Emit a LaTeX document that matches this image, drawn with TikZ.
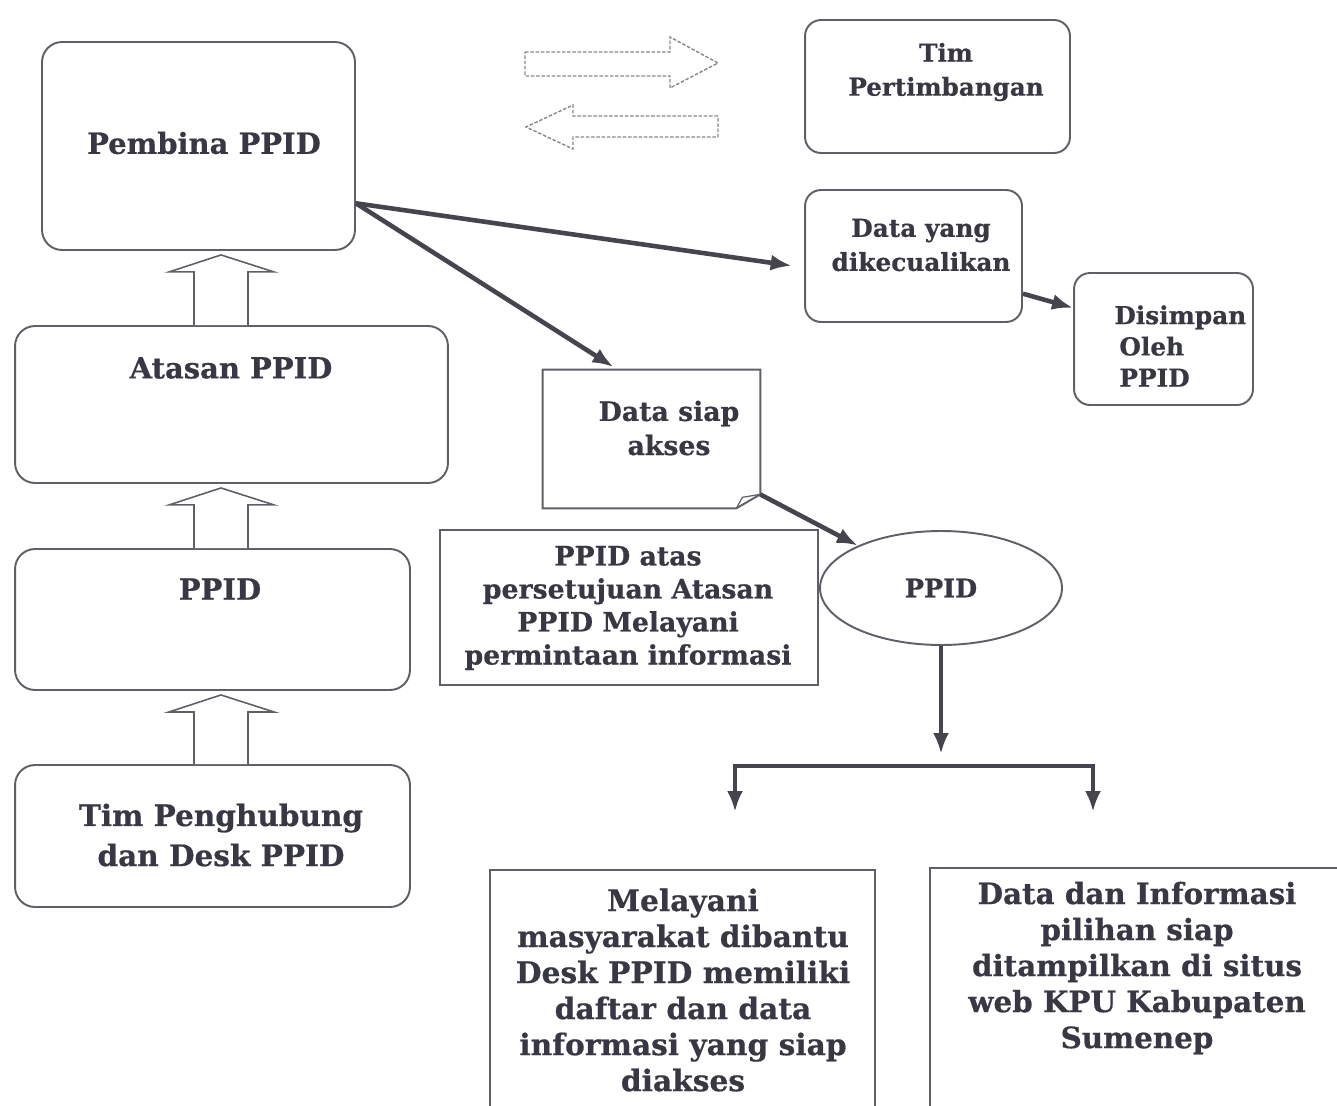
\documentclass[tikz,border=0pt]{standalone}
\usepackage{fontspec}
\setmainfont{DejaVu Serif}[BoldFeatures={FakeBold=0.6}]
\usepackage{tikz}
\usetikzlibrary{arrows.meta}
\usetikzlibrary{shapes.geometric}
\usetikzlibrary{calc}
\usetikzlibrary{positioning}
\definecolor{boxline}{HTML}{5F5F68}
\definecolor{flowline}{HTML}{45454F}
\definecolor{txt}{HTML}{383844}
\tikzset{>={Latex[length=0.42cm,width=0.32cm]}}
\tikzset{
  box/.style={draw=boxline, line width=1.1pt, rounded corners=0.4cm, inner sep=0pt},
  sqbox/.style={draw=boxline, line width=1.1pt, inner sep=0pt},
  bigtxt/.style={font=\fontsize{16.5}{20.5}\selectfont\bfseries, text=txt, align=center, inner sep=0pt},
  midtxt/.style={font=\fontsize{15.2}{18.8}\selectfont\bfseries, text=txt, align=center, inner sep=0pt},
  smalltxt/.style={font=\fontsize{14}{19.4}\selectfont\bfseries, text=txt, align=center, inner sep=0pt},
  flow/.style={->, draw=flowline, line width=2.6pt},
  blockup/.style={draw=boxline, line width=0.9pt, fill=white},
  ghost/.style={draw=boxline!75, line width=0.8pt, dash pattern=on 2pt off 1pt}
}

\begin{document}
\begin{tikzpicture}[x=0.02cm, y=-0.02cm]
  \useasboundingbox (0,0) rectangle (1337,1105);
  \clip (0,0) rectangle (1337,1105);

  % left column
  \node[box, minimum width=6.26cm, minimum height=4.16cm, bigtxt] (pembina) at (198.5,146) {};
  \node[bigtxt] (pembina-t) at (204,143) {Pembina PPID};
  \node[box, minimum width=8.66cm, minimum height=3.14cm] (atasan) at (231.5,404.5) {};
  \node[bigtxt] (atasan-t) at (231,368) {Atasan PPID};
  \node[box, minimum width=7.9cm, minimum height=2.82cm] (ppid) at (212.5,619.5) {};
  \node[bigtxt] (ppid-t) at (220,589) {PPID};
  \node[box, minimum width=7.9cm, minimum height=2.84cm] (penghubung) at (212.5,836) {};
  \node[bigtxt, font=\fontsize{16.8}{22.8}\selectfont\bfseries] (penghubung-t) at (221,835) {Tim Penghubung\\dan Desk PPID};

  \foreach \lo/\hi in {atasan/pembina, ppid/atasan, penghubung/ppid} {
    \draw[blockup] (194,0 |- \lo.north) -- ($(194,0 |- \hi.south)+(0,21)$)
      -- ($(169,0 |- \hi.south)+(0,21)$) -- ($(221,0 |- \hi.south)+(0,4)$)
      -- ($(274,0 |- \hi.south)+(0,21)$) -- ($(248,0 |- \hi.south)+(0,21)$)
      -- (248,0 |- \lo.north);
  }

  % dashed two-way arrows
  \draw[ghost] (525,52) -- (670,52) -- (670,37) -- (718,63) -- (670,88) -- (670,76) -- (525,76) -- cycle;
  \draw[ghost] (718,116) -- (573,116) -- (573,105) -- (526,127) -- (573,149) -- (573,137) -- (718,137) -- cycle;

  % right side
  \node[box, rounded corners=0.32cm, minimum width=5.3cm, minimum height=2.66cm] (timpert) at (937.5,86.5) {};
  \node[smalltxt] (timpert-t) at (946,72) {Tim\\Pertimbangan};
  \node[box, rounded corners=0.32cm, minimum width=4.34cm, minimum height=2.64cm] (dikecualikan) at (913.5,256) {};
  \node[smalltxt, font=\fontsize{14.1}{19.4}\selectfont\bfseries] (dikecualikan-t) at (921,245) {Data yang\\dikecualikan};
  \node[box, rounded corners=0.32cm, minimum width=3.58cm, minimum height=2.64cm] (disimpan) at (1163.5,339) {};
  \node[smalltxt, align=left, anchor=west, font=\fontsize{14.1}{17.8}\selectfont\bfseries] (disimpan-t) at (1114,346) {Disimpan\\\hspace{0.1cm}Oleh\\\hspace{0.1cm}PPID};

  % note with folded corner
  \node[minimum width=4.34cm, minimum height=2.76cm, inner sep=0pt] (siapakses) at (651.5,439) {};
  \draw[boxline, line width=1.1pt] (siapakses.north west) -- (siapakses.north east)
    -- ($(siapakses.south east)+(0,-14)$) -- ($(siapakses.south east)+(-24,0)$)
    -- (siapakses.south west) -- cycle;
  \draw[boxline, line width=0.7pt] ($(siapakses.south east)+(-24,0)$) -- ($(siapakses.south east)+(-18,-11)$)
    -- ($(siapakses.south east)+(0,-14)$);
  \node[smalltxt, font=\fontsize{15.2}{19.4}\selectfont\bfseries] (siapakses-t) at (669,428) {Data siap\\akses};

  \node[sqbox, minimum width=7.56cm, minimum height=3.1cm] (persetujuan) at (629,607.5) {};
  \node[midtxt] (persetujuan-t) at (628,608) {PPID atas\\persetujuan Atasan\\PPID Melayani\\permintaan informasi};

  \node[ellipse, draw=boxline, line width=1.1pt, minimum width=4.84cm, minimum height=2.28cm, inner sep=0pt, midtxt, font=\fontsize{14.5}{18.8}\selectfont\bfseries] (ppidpusat) at (941,588) {PPID};

  % bottom boxes
  \node[sqbox, minimum width=7.7cm, minimum height=5.6cm] (melayani) at (682.5,1010) {};
  \node[bigtxt, font=\fontsize{16.9}{20.5}\selectfont\bfseries] (melayani-t) at (683,990) {Melayani\\masyarakat dibantu\\Desk PPID memiliki\\daftar dan data\\informasi yang siap\\diakses};
  \node[sqbox, minimum width=8.3cm, minimum height=5.64cm] (situsweb) at (1137.5,1009) {};
  \node[bigtxt, font=\fontsize{16.7}{20.5}\selectfont\bfseries] (situsweb-t) at (1137,968) {Data dan Informasi\\pilihan siap\\ditampilkan di situs\\web KPU Kabupaten\\Sumenep};

  % connectors
  \draw[flow, shorten >=0.25cm] (pembina.-20) -- (dikecualikan.186);
  \draw[flow, shorten >=0.1cm] (pembina.-20) -- (siapakses.116);
  \draw[flow] (dikecualikan.-19) -- (disimpan.161);
  \draw[flow] (siapakses.-27) -- (ppidpusat.153);
  \coordinate (fork) at (941,766);
  \coordinate (melayani-in) at (735,812);
  \coordinate (situsweb-in) at (1093,812);
  \draw[flow, shorten >=0.24cm] (ppidpusat.south) -- (fork);
  \draw[flow, <->] (melayani-in) |- (fork) -| (situsweb-in);
\end{tikzpicture}
\end{document}
